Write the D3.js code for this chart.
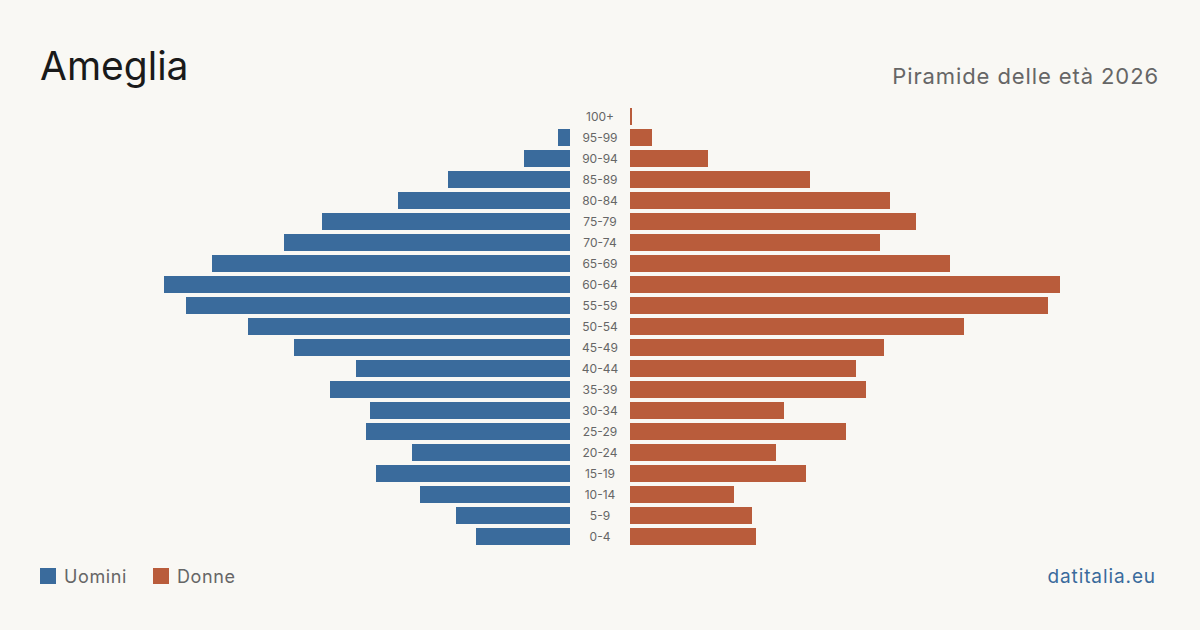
<!DOCTYPE html>
<html>
<head>
<meta charset="utf-8">
<script src="https://cdn.jsdelivr.net/npm/d3@7"></script>
<style>
  body { margin: 0; background: #f9f8f4; }
  svg { display: block; font-family: Inter, "Noto Sans", sans-serif; }
</style>
</head>
<body>
<svg width="1200" height="630"></svg>
<script>
// age groups, top to bottom
var ageGroups = ["100+", "95-99", "90-94", "85-89", "80-84", "75-79", "70-74", "65-69", "60-64", "55-59",
  "50-54", "45-49", "40-44", "35-39", "30-34", "25-29", "20-24", "15-19", "10-14", "5-9", "0-4"];
// estimated counts
var uomini = [0, 6, 23, 61, 86, 124, 143, 179, 203, 192, 161, 138, 107, 120, 100, 102, 79, 97, 75, 57, 47];
var donne  = [1, 11, 39, 90, 130, 143, 125, 160, 215, 209, 167, 127, 113, 118, 77, 108, 73, 88, 52, 61, 63];

var blue = "#3a6b9c", red = "#b95c3b";

var svg = d3.select("svg");

svg.append("rect").attr("width", 1200).attr("height", 630).attr("fill", "#f9f8f4");

var y = d3.scaleBand().domain(ageGroups).range([106, 547]).paddingInner(4 / 21).paddingOuter(2 / 21);

var maxV = d3.max(uomini.concat(donne));
// same scale both sides, mirrored around the label column
var xL = d3.scaleLinear().domain([0, maxV]).range([570, 140]);
var xR = d3.scaleLinear().domain([0, maxV]).range([630, 1060]);

var rows = ageGroups.map(function(a, i) { return {age: a, m: uomini[i], f: donne[i]}; });

svg.selectAll(".bar-m").data(rows).enter().append("rect")
  .attr("class", "bar-m")
  .attr("x", d => xL(d.m))
  .attr("y", d => y(d.age))
  .attr("width", d => 570 - xL(d.m))
  .attr("height", y.bandwidth())
  .attr("fill", blue);

svg.selectAll(".bar-f").data(rows).enter().append("rect")
  .attr("class", "bar-f")
  .attr("x", 630)
  .attr("y", d => y(d.age))
  .attr("width", d => xR(d.f) - 630)
  .attr("height", y.bandwidth())
  .attr("fill", red);

svg.selectAll(".age").data(rows).enter().append("text")
  .attr("class", "age")
  .attr("x", 600)
  .attr("y", d => y(d.age) + y.bandwidth() / 2)
  .attr("dy", "0.35em")
  .attr("text-anchor", "middle")
  .attr("font-size", 12)
  .attr("fill", "#666")
  .text(d => d.age);

// titles
svg.append("text").attr("x", 40).attr("y", 80).attr("font-size", 39).attr("fill", "#1a1a1a").text("Ameglia");
svg.append("text").attr("x", 1159).attr("y", 84).attr("text-anchor", "end").attr("font-size", 22)
  .attr("letter-spacing", 0.9).attr("fill", "#666").text("Piramide delle età 2026");

// legend
svg.append("rect").attr("x", 40).attr("y", 568).attr("width", 16).attr("height", 16).attr("fill", blue);
svg.append("text").attr("x", 64).attr("y", 583).attr("font-size", 18).attr("letter-spacing", 0.6)
  .attr("fill", "#666").text("Uomini");
svg.append("rect").attr("x", 153).attr("y", 568).attr("width", 16).attr("height", 16).attr("fill", red);
svg.append("text").attr("x", 177).attr("y", 583).attr("font-size", 18).attr("letter-spacing", 0.6)
  .attr("fill", "#666").text("Donne");

svg.append("text").attr("x", 1156).attr("y", 583).attr("text-anchor", "end").attr("font-size", 19)
  .attr("letter-spacing", 0.9).attr("fill", blue).text("datitalia.eu");
</script>
</body>
</html>
